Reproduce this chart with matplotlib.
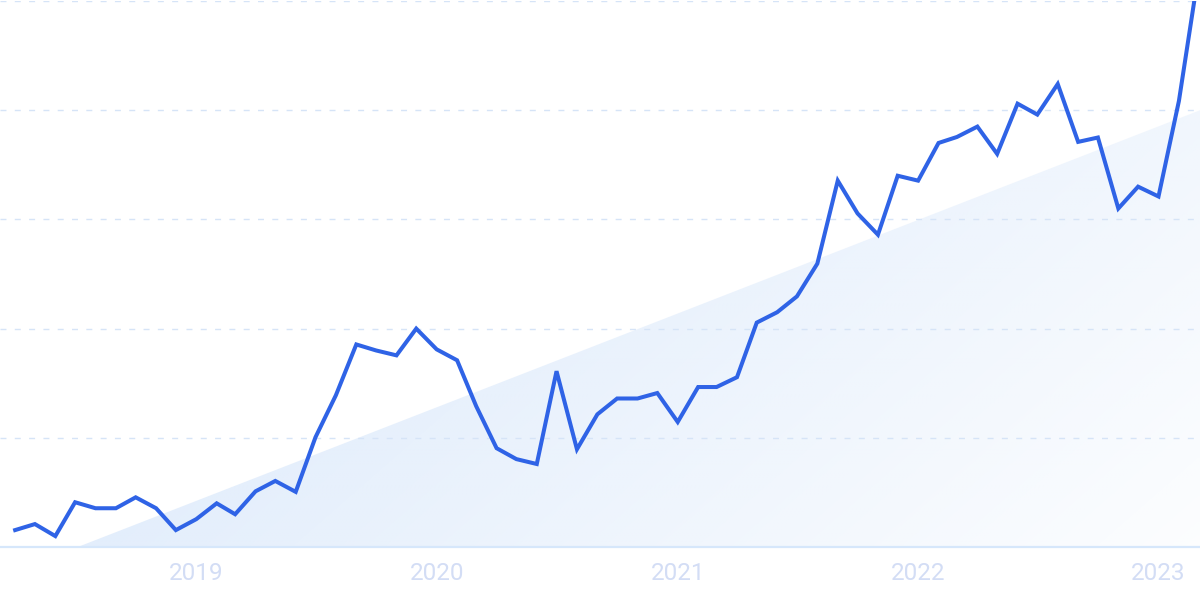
import numpy as np
import pandas as pd
import matplotlib
matplotlib.use("Agg")
import matplotlib.pyplot as plt
from matplotlib.dates import YearLocator, DateFormatter
from matplotlib.patches import Polygon

# monthly index values, Apr 2018 - Mar 2023 (0-100 scale)
months = pd.date_range("2018-04-01", "2023-03-01", freq="MS")
values = [3.1, 4.2, 2.0, 8.2, 7.1, 7.1, 9.1, 7.1, 3.1, 5.1,
          8.0, 6.0, 10.2, 12.1, 10.1, 20.1, 27.8, 37.1, 36.0, 35.1,
          40.0, 36.2, 34.2, 25.8, 18.1, 16.1, 15.2, 32.2, 17.9, 24.3,
          27.2, 27.2, 28.2, 22.9, 29.3, 29.3, 31.1, 41.1, 43.0, 45.9,
          51.9, 67.1, 61.1, 57.2, 68.0, 67.1, 74.0, 75.1, 77.0, 72.0,
          81.2, 79.2, 84.8, 74.2, 75.0, 62.0, 66.0, 64.2, 81.7, 103.7]

# trend band under the line
trend_dates = pd.to_datetime(["2018-07-05", "2023-03-05"])
trend_vals = [0, 80]

xmin = pd.Timestamp("2018-03-09")
xmax = pd.Timestamp("2023-03-05")

plt.rcParams['lines.scale_dashes'] = False
fig = plt.figure(figsize=(12, 5.99), dpi=100)
ax = fig.add_axes([0, 0.0868, 1, 0.9115])

# gradient triangle for the trend
x0 = matplotlib.dates.date2num(xmin)
x1 = matplotlib.dates.date2num(xmax)
u = np.linspace(0, 1, 300)
v = np.linspace(0, 1, 150)
U, V = np.meshgrid(u, v)
inten = np.clip(1.063 - 0.963 * U + 0.5 * V, 0, 1)
img = np.zeros((150, 300, 4))
img[..., 0] = 227 / 255
img[..., 1] = 238 / 255
img[..., 2] = 252 / 255
img[..., 3] = inten
im = ax.imshow(img, extent=[x0, x1, 0, 100], origin="lower",
               aspect="auto", zorder=1, interpolation="bilinear")
tx = matplotlib.dates.date2num(trend_dates)
tri = Polygon([(tx[0], trend_vals[0]), (tx[1], trend_vals[1]), (tx[1], 0)],
              closed=True, facecolor="none", edgecolor="none")
ax.add_patch(tri)
im.set_clip_path(tri)

for g in [20, 40, 60, 80, 100]:
    ax.axhline(g, color="#d6e4f7", lw=1.0, dashes=(4.3, 6), zorder=2)

ax.plot(months, values, color="#2f63e6", lw=2.9, zorder=3,
        solid_joinstyle="miter")

ax.set_xlim(xmin, xmax)
ax.set_ylim(0, 100)
ax.xaxis.set_major_locator(YearLocator())
ax.xaxis.set_major_formatter(DateFormatter("%Y"))
ax.tick_params(axis="x", length=0, pad=11, colors="#d3ddf5")
for lab in ax.get_xticklabels():
    lab.set_family(["Liberation Sans Narrow", "Roboto", "DejaVu Sans"])
    lab.set_fontsize(17.5)
ax.set_yticks([])
for s in ["top", "left", "right"]:
    ax.spines[s].set_visible(False)
ax.spines["bottom"].set_color("#d6e7fb")
ax.spines["bottom"].set_linewidth(1.6)
ax.set_facecolor("white")

fig.savefig("out.png", dpi=100)
